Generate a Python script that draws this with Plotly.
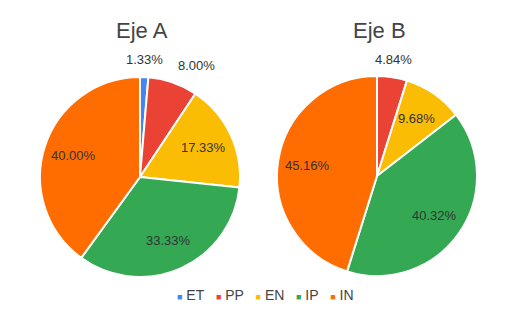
import math
import plotly.graph_objects as go

labels = ["ET", "PP", "EN", "IP", "IN"]
eje_a = [1, 6, 13, 25, 30]
eje_b = [0, 3, 6, 25, 28]
colors = ["#4285F4", "#EA4335", "#FBBC04", "#34A853", "#FF6D01"]
titles = ["Eje A", "Eje B"]

FONT = "Arial, Liberation Sans, sans-serif"
W, H, OFF = 512, 309, 8  # page body has an 8px margin


def px(X):
    return (X - OFF) / W


def py(Y):
    return 1 - (Y - OFF) / H


# pie layout in page pixels: centre x, centre y, radius
pies = [
    dict(vals=eje_a, cx=140, cy=177, r=100, title=titles[0]),
    dict(vals=eje_b, cx=377, cy=176, r=100, title=titles[1]),
]

fig = go.Figure()
annotations = []
for p in pies:
    cx, cy, r = p["cx"], p["cy"], p["r"]
    fig.add_trace(go.Pie(
        labels=labels, values=p["vals"], sort=False, direction="clockwise", rotation=0,
        marker=dict(colors=colors, line=dict(color="white", width=2)),
        textinfo="none", showlegend=False,
        domain=dict(x=[px(cx - r), px(cx + r)], y=[py(cy + r), py(cy - r)]),
        hoverinfo="label+percent",
    ))
    annotations.append(dict(text=p["title"], x=px(cx + 2), y=py(30), xref="paper", yref="paper",
                            xanchor="center", yanchor="middle", showarrow=False,
                            font=dict(size=22, color="#444444", family=FONT)))
    total = sum(p["vals"])
    cum = 0
    for v in p["vals"]:
        if v == 0:
            continue
        frac = v / total
        mid = 2 * math.pi * (cum + frac / 2)
        cum += frac
        s, c = math.sin(mid), math.cos(mid)
        txt = f"{frac * 100:.2f}%"
        if frac < 0.085:
            d = r + 8
            X, Y = cx + d * s, cy - d * c
            xa = "center" if abs(s) < 0.2 else ("left" if s > 0 else "right")
            ya = "bottom" if c > 0 else "top"
        else:
            d = r * 0.7
            X, Y = cx + d * s, cy - d * c
            xa, ya = "center", "middle"
        annotations.append(dict(text=txt, x=px(X), y=py(Y), xref="paper", yref="paper",
                                xanchor=xa, yanchor=ya, showarrow=False,
                                font=dict(size=13, color="#333333", family=FONT)))

# legend row
sp = "\u00a0"
items = [f"<span style='color:{c};font-size:9px'>■</span>{sp}{l}" for l, c in zip(labels, colors)]
annotations.append(dict(text=(sp * 3).join(items), x=px(265), y=py(295), xref="paper", yref="paper",
                        xanchor="center", yanchor="middle", showarrow=False,
                        font=dict(size=14, color="#444444", family=FONT)))

fig.update_layout(
    width=W, height=H, margin=dict(l=0, r=0, t=0, b=0),
    paper_bgcolor="white", plot_bgcolor="white",
    font=dict(family=FONT, color="#444444"),
    showlegend=False,
    annotations=annotations,
)

fig.write_html("out.html")
